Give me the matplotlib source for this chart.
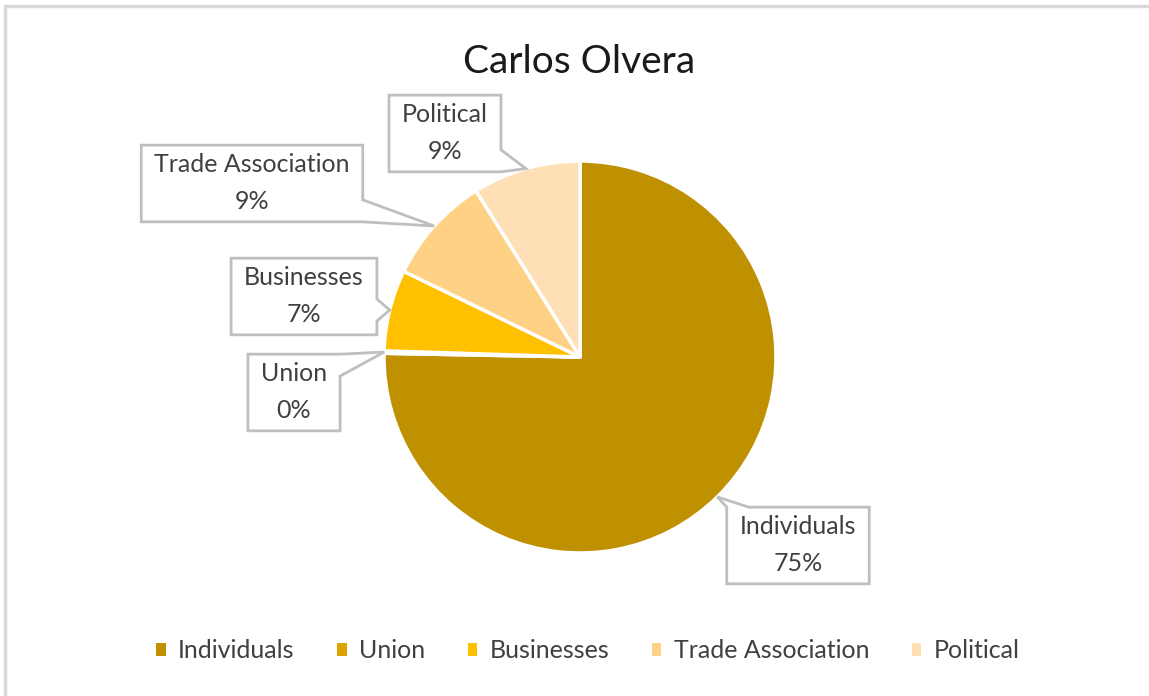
import numpy as np
import matplotlib.pyplot as plt
from matplotlib.patches import Patch, Rectangle, Polygon

plt.rcParams['font.family'] = ['Lato', 'DejaVu Sans']

title = 'Carlos Olvera'
categories = ['Individuals', 'Union', 'Businesses', 'Trade Association', 'Political']
shares = [75.3, 0.2, 6.7, 8.9, 8.9]
colors = ['#BF9000', '#DDA300', '#FFC000', '#FFD185', '#FFDFB5']

# label box centres, pixel coords (y measured from top)
label_pos = [(798, 545), (294, 392), (304, 296), (252, 183), (445, 133)]

W, H = 1149, 696
fig = plt.figure(figsize=(W / 100, H / 100), dpi=100)
ax = fig.add_axes([0, 0, 1, 1])

cx, cy, r = 580, H - 357, 196
wedges, _ = ax.pie(shares, colors=colors, startangle=90, counterclock=False,
                   center=(cx, cy), radius=r, frame=True,
                   wedgeprops=dict(edgecolor='white', linewidth=2.5))
ax.set_xlim(0, W)
ax.set_ylim(0, H)
ax.axis('off')


def callout(x0, y0, x1, y1, tip, base=22):
    # box outline with a triangular pointer on the side facing the tip
    bx, by = (x0 + x1) / 2, (y0 + y1) / 2
    nx = (tip[0] - bx) / ((x1 - x0) / 2)
    ny = (tip[1] - by) / ((y1 - y0) / 2)
    if abs(nx) >= abs(ny):
        c = np.clip(tip[1], y0 + base / 2, y1 - base / 2)
        b0, b1 = c - base / 2, c + base / 2
        if nx > 0:
            return [(x0, y0), (x1, y0), (x1, b0), tip, (x1, b1), (x1, y1), (x0, y1)]
        return [(x0, y0), (x1, y0), (x1, y1), (x0, y1), (x0, b1), tip, (x0, b0)]
    c = np.clip(tip[0], x0 + base / 2, x1 - base / 2)
    b0, b1 = c - base / 2, c + base / 2
    if ny > 0:
        return [(x0, y0), (x1, y0), (x1, y1), (b1, y1), tip, (b0, y1), (x0, y1)]
    return [(x0, y0), (b0, y0), tip, (b1, y0), (x1, y0), (x1, y1), (x0, y1)]


renderer = fig.canvas.get_renderer()
for w, cat, v, (lx, ly) in zip(wedges, categories, shares, label_pos):
    mid = np.deg2rad((w.theta1 + w.theta2) / 2)
    tip = (cx + r * np.cos(mid), cy + r * np.sin(mid))
    t = ax.text(lx, H - ly, f'{cat}\n{v:.0f}%', ha='center', va='center',
                fontsize=18, color='#404040', linespacing=1.72, zorder=5)
    bb = t.get_window_extent(renderer)
    pts = callout(bb.x0 - 13, bb.y0 - 9, bb.x1 + 13, bb.y1 + 8, tip)
    ax.add_patch(Polygon(pts, closed=True, fc='white', ec='#BFBFBF', lw=2, zorder=4))

ax.text(579, H - 62, title, ha='center', va='center', fontsize=28, color='#1a1a1a')

handles = [Patch(facecolor=c, edgecolor='none') for c in colors]
ax.legend(handles, categories, loc='center', bbox_to_anchor=(588, H - 651),
          bbox_transform=ax.transData, ncol=5, frameon=False, fontsize=18,
          handlelength=0.38, handleheight=0.38, handletextpad=0.5,
          columnspacing=1.7, labelcolor='#404040')

# chart border (right and bottom fall outside the image)
fig.patches.append(Rectangle((5 / W, -0.1), 2, 1.1 - 6 / H, transform=fig.transFigure,
                             fill=False, edgecolor='#D9D9D9', lw=2.5))

fig.savefig('out.png', dpi=100)
